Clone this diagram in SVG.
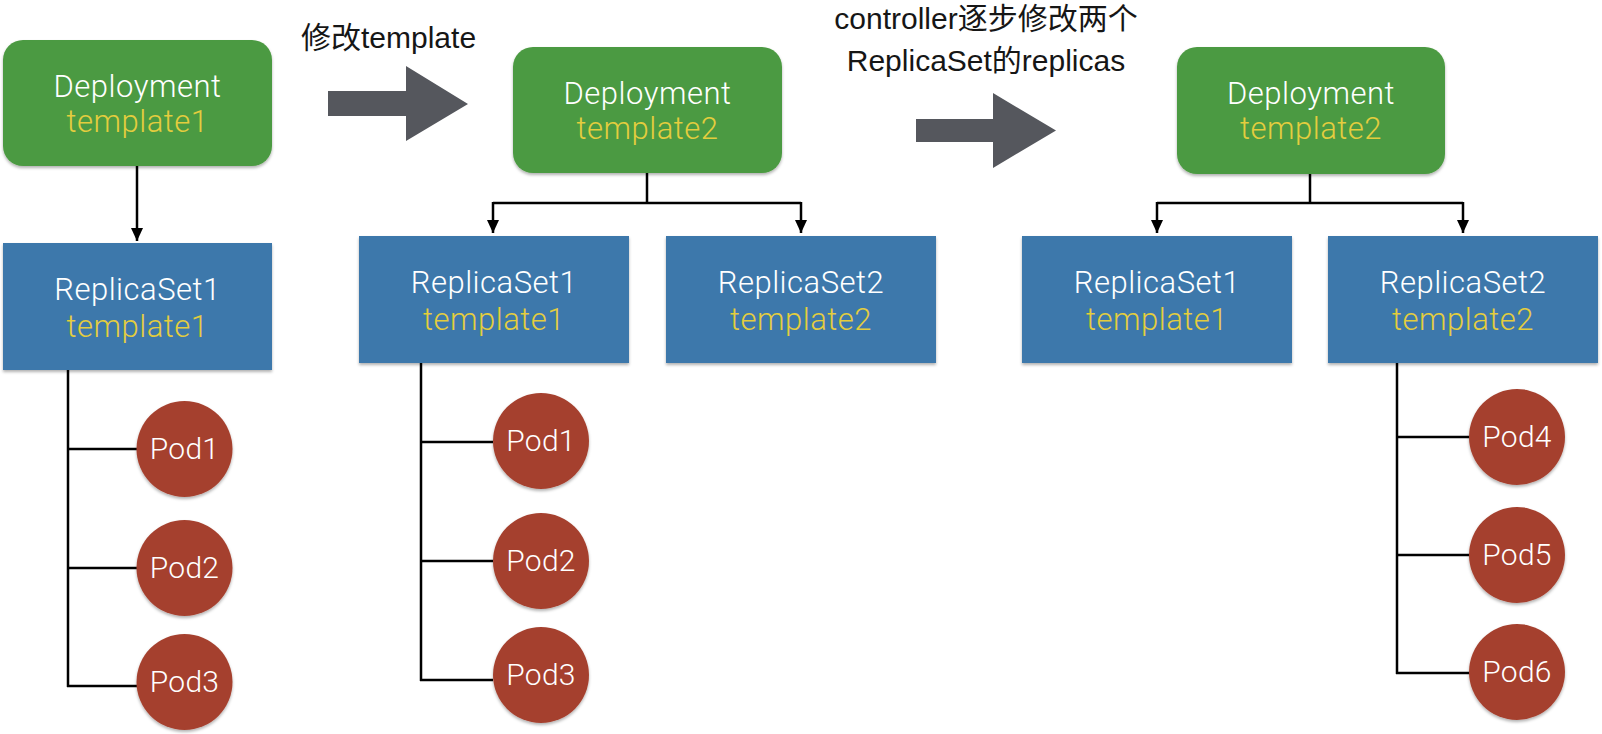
<svg xmlns="http://www.w3.org/2000/svg" width="1602" height="734" viewBox="0 0 1602 734">
<style>
.dep{fill:#4c9a42;filter:url(#sh)}
.rs{fill:#3e78ab;filter:url(#sh)}
.pod{fill:#a5412f;filter:url(#sh)}
.t1{font-family:Roboto,"Liberation Sans",sans-serif;font-weight:300;font-size:31px;letter-spacing:0.5px;fill:#ffffff;text-anchor:middle}
.t2{font-family:Roboto,"Liberation Sans",sans-serif;font-weight:300;font-size:31px;letter-spacing:0.5px;fill:#e4cd3e;text-anchor:middle}
.tp{font-family:Roboto,"Liberation Sans",sans-serif;font-weight:300;font-size:30px;letter-spacing:0.3px;fill:#ffffff;text-anchor:middle}
.lbl{font-family:"Liberation Sans","Noto Sans CJK SC",sans-serif;font-size:30px;fill:#161616}
.con{fill:none;stroke:#000;stroke-width:2.5}
.big{fill:#55575d}
</style>
<defs>
<filter id="sh" x="-10%" y="-10%" width="120%" height="130%"><feDropShadow dx="0" dy="2" stdDeviation="1.5" flood-color="#000" flood-opacity="0.3"/></filter>
<marker id="ah" viewBox="0 0 13 12" refX="13" refY="6" markerWidth="13" markerHeight="12" orient="auto" markerUnits="userSpaceOnUse"><path d="M0,0 L13,6 L0,12 Z" fill="#000"/></marker>
</defs>

<g id="labels">
<text class="lbl" x="301" y="48">修改template</text>
<text class="lbl" x="986" y="29" text-anchor="middle">controller逐步修改两个</text>
<text class="lbl" x="986" y="71" text-anchor="middle">ReplicaSet的replicas</text>
<polygon class="big" points="328,91 406,91 406,66 468,104 406,141 406,116 328,116"/>
<polygon class="big" points="916,119 993,119 993,93 1056,130.5 993,168 993,142 916,142"/>
</g>

<g id="connectors">
<path class="con" d="M137,166 V241" marker-end="url(#ah)"/>
<path class="con" d="M68,370 V687 M68,449 H137 M68,568 H137 M67,686 H137"/>
<path class="con" d="M647,173 V203 M493,203 H801"/>
<path class="con" d="M493,202 V233" marker-end="url(#ah)"/>
<path class="con" d="M801,202 V233" marker-end="url(#ah)"/>
<path class="con" d="M421,363 V681 M421,442 H493 M421,561 H493 M420,680 H493"/>
<path class="con" d="M1310,174 V203 M1157,203 H1463"/>
<path class="con" d="M1157,202 V233" marker-end="url(#ah)"/>
<path class="con" d="M1463,202 V233" marker-end="url(#ah)"/>
<path class="con" d="M1397,363 V674 M1397,437 H1470 M1397,555 H1470 M1396,673 H1470"/>
</g>

<g id="deployment1"><rect class="dep" x="3" y="40" width="269" height="126" rx="20"/><text class="t1" x="137.5" y="97">Deployment</text><text class="t2" x="137.5" y="132">template1</text></g>
<g id="replicaset1-a"><rect class="rs" x="3" y="243" width="269" height="127"/><text class="t1" x="137.5" y="300">ReplicaSet1</text><text class="t2" x="137.5" y="337">template1</text></g>
<g id="pod1-a"><circle class="pod" cx="184.5" cy="449" r="48"/><text class="tp" x="184.5" y="459">Pod1</text></g>
<g id="pod2-a"><circle class="pod" cx="184.5" cy="568" r="48"/><text class="tp" x="184.5" y="578">Pod2</text></g>
<g id="pod3-a"><circle class="pod" cx="184.5" cy="682" r="48"/><text class="tp" x="184.5" y="692">Pod3</text></g>

<g id="deployment2"><rect class="dep" x="513" y="47" width="269" height="126" rx="20"/><text class="t1" x="647.5" y="104">Deployment</text><text class="t2" x="647.5" y="139">template2</text></g>
<g id="replicaset1-b"><rect class="rs" x="359" y="236" width="270" height="127"/><text class="t1" x="494" y="293">ReplicaSet1</text><text class="t2" x="494" y="330">template1</text></g>
<g id="replicaset2-b"><rect class="rs" x="666" y="236" width="270" height="127"/><text class="t1" x="801" y="293">ReplicaSet2</text><text class="t2" x="801" y="330">template2</text></g>
<g id="pod1-b"><circle class="pod" cx="541" cy="441" r="48"/><text class="tp" x="541" y="451">Pod1</text></g>
<g id="pod2-b"><circle class="pod" cx="541" cy="561" r="48"/><text class="tp" x="541" y="571">Pod2</text></g>
<g id="pod3-b"><circle class="pod" cx="541" cy="675" r="48"/><text class="tp" x="541" y="685">Pod3</text></g>

<g id="deployment3"><rect class="dep" x="1177" y="47" width="268" height="127" rx="20"/><text class="t1" x="1311" y="104">Deployment</text><text class="t2" x="1311" y="139">template2</text></g>
<g id="replicaset1-c"><rect class="rs" x="1022" y="236" width="270" height="127"/><text class="t1" x="1157" y="293">ReplicaSet1</text><text class="t2" x="1157" y="330">template1</text></g>
<g id="replicaset2-c"><rect class="rs" x="1328" y="236" width="270" height="127"/><text class="t1" x="1463" y="293">ReplicaSet2</text><text class="t2" x="1463" y="330">template2</text></g>
<g id="pod4"><circle class="pod" cx="1517" cy="437" r="48"/><text class="tp" x="1517" y="447">Pod4</text></g>
<g id="pod5"><circle class="pod" cx="1517" cy="555" r="48"/><text class="tp" x="1517" y="565">Pod5</text></g>
<g id="pod6"><circle class="pod" cx="1517" cy="672" r="48"/><text class="tp" x="1517" y="682">Pod6</text></g>
</svg>
